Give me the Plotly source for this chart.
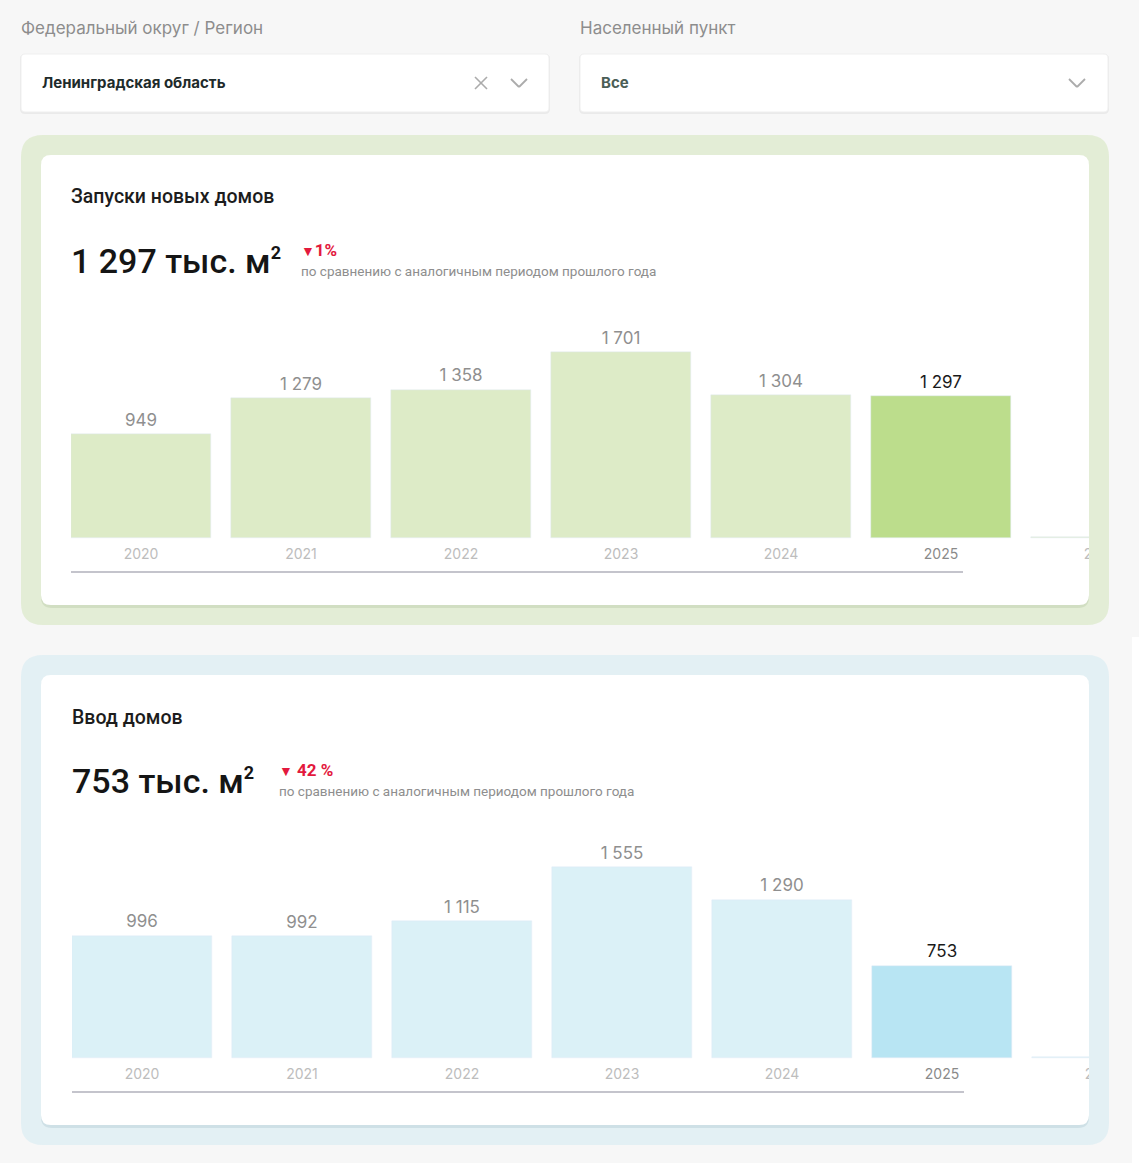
import plotly.graph_objects as go

W, H = 1139, 1163

# ---------------- data ----------------
years = ["2020", "2021", "2022", "2023", "2024", "2025", "2026"]
launches = [949, 1279, 1358, 1701, 1304, 1297, 12]      # Запуски новых домов, тыс. м²
commissioning = [996, 992, 1115, 1555, 1290, 753, 10]   # Ввод домов, тыс. м²
current_idx = 5

launch_total = "1 297"
launch_change = "1%"
comm_total = "753"
comm_change = "42 %"

region_label = "Федеральный округ / Регион"
region_value = "Ленинградская область"
city_label = "Населенный пункт"
city_value = "Все"
subtitle = "по сравнению с аналогичным периодом прошлого года"

# ---------------- helpers ----------------
def X(px):
    return px / W

def Y(py):
    return 1 - py / H

def rrect(x0, y0, x1, y1, r, fill, line=None, lw=0):
    pts = [
        ("M", x0 + r, y0), ("L", x1 - r, y0), ("Q", x1, y0, x1, y0 + r),
        ("L", x1, y1 - r), ("Q", x1, y1, x1 - r, y1), ("L", x0 + r, y1),
        ("Q", x0, y1, x0, y1 - r), ("L", x0, y0 + r), ("Q", x0, y0, x0 + r, y0),
    ]
    parts = []
    for p in pts:
        cmd = p[0]
        coords = p[1:]
        s = cmd + " " + " ".join(
            f"{X(coords[i]):.5f},{Y(coords[i+1]):.5f}" for i in range(0, len(coords), 2)
        )
        parts.append(s)
    path = " ".join(parts) + " Z"
    d = dict(type="path", path=path, xref="paper", yref="paper", fillcolor=fill,
             layer="below", line=dict(width=lw, color=line or "rgba(0,0,0,0)"))
    return d

def seg(x0, y0, x1, y1, color, w):
    return dict(type="line", xref="paper", yref="paper", x0=X(x0), y0=Y(y0),
                x1=X(x1), y1=Y(y1), line=dict(color=color, width=w), layer="above")

def fmt(v):
    return f"{v:,}".replace(",", " ")

FONT = "Inter"
FONT2 = "Roboto"

fig = go.Figure()

def add_chart(values, xa, ya, light, strong, x_left, base_py, top_py, bot_py, max_px):
    colors = [strong if i == current_idx else light for i in range(len(values))]
    fig.add_trace(go.Bar(x=list(range(len(values))), y=values, marker_color=colors,
                         width=0.875, xaxis=xa, yaxis=ya, hoverinfo="skip",
                         showlegend=False, cliponaxis=True))
    labels = [fmt(v) for v in values[:-1]] + [""]
    lcol = ["#1a1a1a" if i == current_idx else "#8f8f8f" for i in range(len(values))]
    fig.add_trace(go.Scatter(x=list(range(len(values))), y=values, mode="markers+text",
                             text=labels, textposition="top center",
                             marker=dict(size=5, opacity=0),
                             textfont=dict(family=FONT, size=17, color=lcol),
                             xaxis=xa, yaxis=ya, hoverinfo="skip", showlegend=False,
                             cliponaxis=True))
    k = max_px / max(values)
    ycol = ["#8a8a8a" if i == current_idx else "#bdbdbd" for i in range(len(values))]
    fig.add_trace(go.Scatter(x=list(range(len(values))), y=[-17 / k] * len(values),
                             mode="text", text=years, textposition="middle center",
                             textfont=dict(family=FONT, size=14, color=ycol),
                             xaxis=xa, yaxis=ya, hoverinfo="skip", showlegend=False,
                             cliponaxis=True))
    span = (1089 - x_left) / 160
    xr = [-0.4375, -0.4375 + span]
    yr = [-(bot_py - base_py) / k, (base_py - top_py) / k]
    return dict(domain=[X(x_left), X(1089)], range=xr, visible=False, fixedrange=True), \
           dict(domain=[Y(bot_py), Y(top_py)], range=yr, visible=False, fixedrange=True)

xa1, ya1 = add_chart(launches, "x", "y", "#ddebc7", "#bcdd8c", 71, 538, 310, 575, 186)
xa2, ya2 = add_chart(commissioning, "x2", "y2", "#dbf1f7", "#b8e5f3", 72, 1058, 830, 1095, 191)

shapes = []
# dropdowns
for (x0, x1) in [(21, 549), (580, 1108)]:
    shapes.append(rrect(x0 - 1, 54, x1 + 1, 114, 5, "rgba(0,0,0,0.05)"))
    shapes.append(rrect(x0, 54, x1, 112, 4, "#ffffff", "#efefef", 1))
# panels
shapes.append(rrect(21, 135, 1109, 625, 22, "#e3edd6"))
shapes.append(rrect(41, 156, 1089, 608, 11, "rgba(170,190,150,0.3)"))
shapes.append(rrect(41, 155, 1089, 605, 10, "#ffffff"))
shapes.append(rrect(21, 655, 1109, 1145, 22, "#e3f0f4"))
shapes.append(rrect(41, 676, 1089, 1128, 11, "rgba(160,190,200,0.3)"))
shapes.append(rrect(41, 675, 1089, 1125, 10, "#ffffff"))
shapes.append(dict(type="rect", xref="paper", yref="paper", x0=X(1132), x1=1, y0=0, y1=Y(637),
                   fillcolor="#ffffff", line=dict(width=0), layer="below"))
# axis lines
shapes.append(seg(71, 572, 963, 572, "#c4c4cc", 2))
shapes.append(seg(72, 1092, 964, 1092, "#c4c4cc", 2))
# icons
ic = "#ababab"
shapes.append(seg(475, 77, 487, 89, ic, 1.6))
shapes.append(seg(487, 77, 475, 89, ic, 1.6))
for cx in [519, 1077]:
    shapes.append(seg(cx - 8, 79, cx, 87, ic, 1.8))
    shapes.append(seg(cx, 87, cx + 8, 79, ic, 1.8))

ann = []
def txt(x, y, s, size, color, family=FONT, weight=400):
    ann.append(dict(x=X(x), y=Y(y), xref="paper", yref="paper", text=s, showarrow=False,
                    xanchor="left", yanchor="middle",
                    font=dict(family=family, size=size, color=color, weight=weight)))

txt(19, 28, region_label, 17, "#8d8d8d")
txt(578, 28, city_label, 17, "#8d8d8d")
txt(40, 83, region_value, 15, "#1e2b2b", weight=700)
txt(599, 83, city_value, 15, "#4b5e56", weight=700)

sup = "<sup><span style='font-size:18px;font-weight:bold'>2</span></sup>"
tri = "<span style='font-size:14px'>▼</span>"

txt(69, 197, "Запуски новых домов", 19.5, "#1c1c1c", FONT2, 500)
txt(69, 261, f"{launch_total} тыс. м{sup}", 34, "#151515", FONT2, 500)
txt(299, 250, f"{tri}{launch_change}", 17, "#e3193d", FONT2, 700)
txt(299, 271, subtitle, 13.5, "#8e8e8e", FONT2)

txt(70, 717, "Ввод домов", 19.5, "#1c1c1c", FONT2, 500)
txt(70, 781, f"{comm_total} тыс. м{sup}", 34, "#151515", FONT2, 500)
txt(277, 770, f"{tri} {comm_change}", 17, "#e3193d", FONT2, 700)
txt(277, 791, subtitle, 13.5, "#8e8e8e", FONT2)

fig.update_layout(
    width=W, height=H, margin=dict(l=0, r=0, t=0, b=0),
    paper_bgcolor="#f7f7f7", plot_bgcolor="rgba(0,0,0,0)",
    xaxis=xa1, yaxis=ya1, xaxis2=xa2, yaxis2=ya2,
    shapes=shapes, annotations=ann, bargap=0, showlegend=False,
)
fig.write_html("out.html", config={"displayModeBar": False},
               post_script="document.body.style.margin='0';document.body.style.background='#f7f7f7';")
